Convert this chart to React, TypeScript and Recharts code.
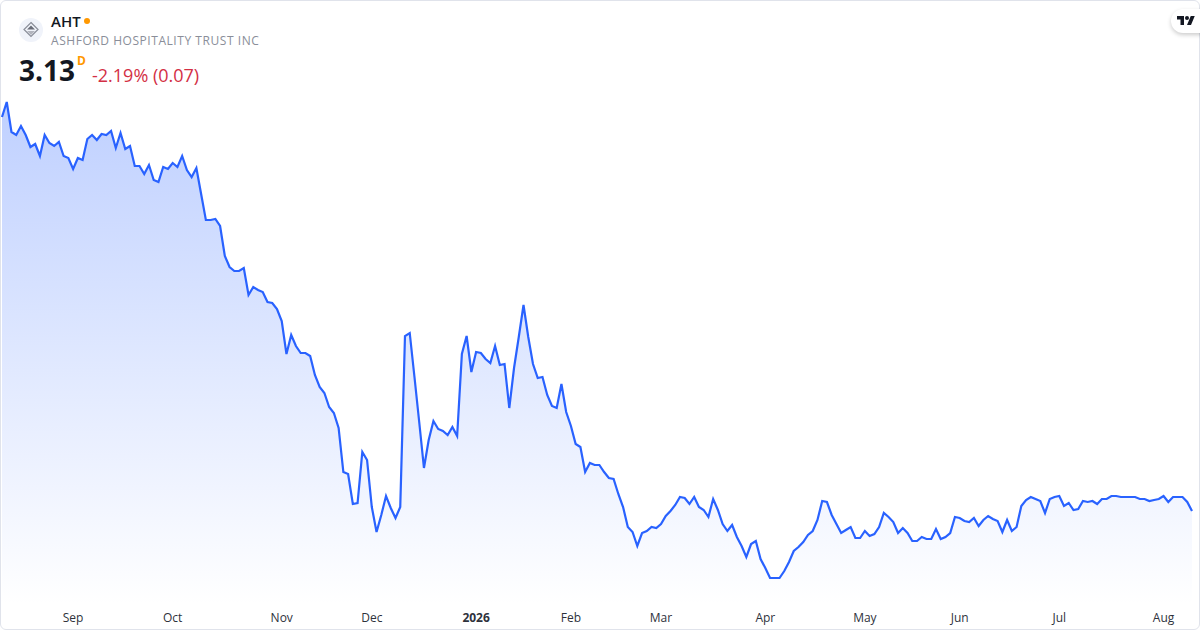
import React from "react";
import { AreaChart, Area, XAxis, YAxis } from "recharts";

const closes: number[] = [
  5.100, 5.175, 5.025, 5.010, 5.055, 5.010, 4.950, 4.965, 4.905, 5.010,
  4.970, 4.955, 4.975, 4.905, 4.895, 4.840, 4.895, 4.885, 4.990, 5.010,
  4.985, 5.015, 5.010, 5.030, 4.945, 5.020, 4.940, 4.955, 4.855, 4.855,
  4.815, 4.860, 4.785, 4.775, 4.850, 4.840, 4.870, 4.850, 4.905, 4.835,
  4.800, 4.845, 4.715, 4.585, 4.585, 4.590, 4.555, 4.405, 4.350, 4.330,
  4.330, 4.345, 4.210, 4.250, 4.235, 4.225, 4.175, 4.170, 4.140, 4.080,
  3.915, 4.010, 3.955, 3.920, 3.920, 3.905, 3.810, 3.750, 3.720, 3.650,
  3.620, 3.545, 3.325, 3.315, 3.165, 3.170, 3.425, 3.385, 3.150, 3.025,
  3.110, 3.205, 3.145, 3.095, 3.150, 4.005, 4.020, 3.800, 3.575, 3.345,
  3.485, 3.580, 3.540, 3.530, 3.510, 3.550, 3.505, 3.915, 4.005, 3.825,
  3.925, 3.920, 3.890, 3.870, 3.955, 3.860, 3.865, 3.645, 3.845, 4.000,
  4.160, 4.000, 3.865, 3.795, 3.800, 3.710, 3.655, 3.645, 3.765, 3.625,
  3.555, 3.465, 3.450, 3.325, 3.370, 3.360, 3.360, 3.325, 3.295, 3.290,
  3.215, 3.150, 3.050, 3.025, 2.955, 3.020, 3.030, 3.050, 3.045, 3.065,
  3.105, 3.130, 3.160, 3.200, 3.195, 3.165, 3.200, 3.150, 3.135, 3.100,
  3.190, 3.135, 3.065, 3.030, 3.060, 3.000, 2.955, 2.900, 2.965, 2.980,
  2.890, 2.845, 2.795, 2.795, 2.795, 2.830, 2.875, 2.930, 2.950, 2.975,
  3.010, 3.030, 3.085, 3.180, 3.175, 3.110, 3.065, 3.020, 3.035, 3.050,
  2.995, 2.995, 3.030, 3.005, 3.015, 3.050, 3.120, 3.100, 3.075, 3.020,
  3.045, 3.020, 2.980, 2.980, 3.000, 2.990, 2.990, 3.040, 2.990, 3.000,
  3.020, 3.100, 3.095, 3.080, 3.075, 3.095, 3.055, 3.085, 3.105, 3.090,
  3.080, 3.025, 3.085, 3.030, 3.050, 3.155, 3.185, 3.200, 3.190, 3.180,
  3.120, 3.190, 3.200, 3.205, 3.155, 3.170, 3.135, 3.140, 3.180, 3.175,
  3.180, 3.165, 3.190, 3.190, 3.205, 3.205, 3.200, 3.200, 3.200, 3.200,
  3.190, 3.190, 3.180, 3.185, 3.190, 3.205, 3.175, 3.200, 3.200, 3.200,
  3.175, 3.130,
];

const tickLabels: string[] = ["Sep", "Oct", "Nov", "Dec", "2026", "Feb", "Mar", "Apr", "May", "Jun", "Jul", "Aug"];
const tickSessions: number[] = [15, 36, 59, 78, 100, 120, 139, 161, 182, 202, 223, 245];

const ticker = "AHT";
const companyName = "ASHFORD HOSPITALITY TRUST INC";
const lastPrice = "3.13";
const priceChange = "-2.19% (0.07)";
const intervalMark = "D";

const rows = closes.map((close, session) => ({ session, close }));
const FONT = "'Open Sans', 'Noto Sans', sans-serif";

function MonthTick({ x, y, payload }: any) {
  const at = tickSessions.indexOf(payload.value);
  const label = tickLabels[at];
  return (
    <text x={x} y={y + 9} textAnchor="middle" fontFamily={FONT} fontSize={12}
      fontWeight={label === "2026" ? 700 : 400} fill="#2e323c">
      {label}
    </text>
  );
}

export default function App() {
  return (
    <div style={{ position: "absolute", left: 0, top: 0, width: 1200, height: 630, background: "#fff", overflow: "hidden", fontFamily: FONT }}>
      <AreaChart width={1200} height={630} data={rows} margin={{ top: 0, right: 8, bottom: 0, left: 2 }}>
        <defs>
          <linearGradient id="fade" x1="0" y1="0" x2="0" y2="1">
            <stop offset="0%" stopColor="#2962ff" stopOpacity={0.3} />
            <stop offset="100%" stopColor="#2962ff" stopOpacity={0} />
          </linearGradient>
        </defs>
        <XAxis dataKey="session" type="number" domain={[0, closes.length - 1]} ticks={tickSessions}
          interval={0} height={25} axisLine={false} tickLine={false} tick={<MonthTick />} />
        <YAxis hide domain={[2.66, 5.685]} />
        <Area type="linear" dataKey="close" stroke="#2962ff" strokeWidth={2.2} fill="url(#fade)" fillOpacity={1}
          isAnimationActive={false} dot={false} activeDot={false} />
      </AreaChart>

      <div style={{ position: "absolute", inset: 0, boxSizing: "border-box", border: "1px solid #e0e3eb", borderRadius: 6, pointerEvents: "none" }} />

      <div style={{ position: "absolute", left: 19, top: 18, width: 24, height: 24, borderRadius: "50%", background: "#f0f3fa" }}>
        <svg width="24" height="24" viewBox="0 0 24 24">
          <path d="M12 4.5 L19 11.5 L12 18.5 L5 11.5 Z" fill="none" stroke="#8a8e99" strokeWidth="1.2" />
          <path d="M12 7.5 L16 11.5 L8 11.5 Z" fill="#6a6d78" />
          <path d="M8 13 L16 13 L12 17 Z" fill="#b2b5be" />
        </svg>
      </div>
      <div style={{ position: "absolute", left: 51, top: 12, fontSize: 15, lineHeight: "18px", fontWeight: 600, color: "#131722" }}>{ticker}</div>
      <div style={{ position: "absolute", left: 84, top: 18, width: 6, height: 6, borderRadius: "50%", background: "#ff9800" }} />
      <div style={{ position: "absolute", left: 51, top: 32, fontSize: 12, lineHeight: "17px", color: "#8a8e99", letterSpacing: 0.55, whiteSpace: "nowrap" }}>{companyName}</div>
      <div style={{ position: "absolute", left: 19, top: 51, fontSize: 28, lineHeight: "38px", fontWeight: 700, color: "#131722" }}>{lastPrice}</div>
      <div style={{ position: "absolute", left: 77, top: 53, fontSize: 12, lineHeight: "16px", fontWeight: 700, color: "#ff9800" }}>{intervalMark}</div>
      <div style={{ position: "absolute", left: 92, top: 63, fontSize: 18, lineHeight: "24px", color: "#d32f45", whiteSpace: "nowrap" }}>{priceChange}</div>

      <div style={{ position: "absolute", left: 1171, top: 9, width: 40, height: 24, borderRadius: "12px 0 0 12px", background: "#fff", boxShadow: "0 2px 4px rgba(0,0,0,0.2)" }}>
        <svg width="18" height="9" viewBox="0 4 36 18" style={{ position: "absolute", left: 6, top: 7 }}>
          <path d="M14 22H7V11H0V4h14v18zM28 22h-8l7.5-18h8L28 22z" fill="#131722" />
          <circle cx="20" cy="8" r="4" fill="#131722" />
        </svg>
      </div>
    </div>
  );
}
